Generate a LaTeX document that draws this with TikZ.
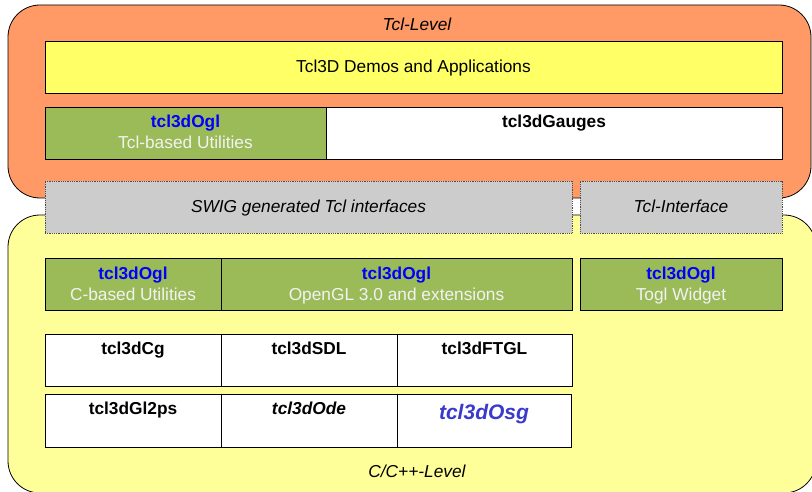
\documentclass[tikz,border=0pt]{standalone}
\usepackage{fontspec}
\setmainfont{Liberation Sans}
\definecolor{orangebg}{HTML}{FF9966}
\definecolor{yellowbg}{HTML}{FFFF99}
\definecolor{yellowbox}{HTML}{FFFF66}
\definecolor{greenbox}{HTML}{9BBB59}
\definecolor{graybox}{HTML}{CCCCCC}
\definecolor{ogl}{HTML}{0000FF}
\definecolor{osg}{HTML}{3A3ACC}
\definecolor{subtxt}{HTML}{F2F2F2}
\begin{document}
\begin{tikzpicture}[x=1pt,y=-1pt,
  level/.style={draw=black, line width=0.8pt, rounded corners=32pt},
  box/.style={draw=black, line width=0.8pt, anchor=north west, inner sep=0pt, outer sep=0pt, minimum height=52pt},
  graystyle/.style={box, fill=graybox, draw=black!70, densely dotted, line width=0.7pt},
  greenstyle/.style={box, fill=greenbox},
  whitestyle/.style={box, fill=white},
  txt/.style={font=\fontsize{17.3}{21}\selectfont, inner sep=0pt, anchor=base},
  bt/.style={txt, font=\fontsize{17.3}{21}\selectfont\bfseries},
  it/.style={txt, font=\fontsize{17.3}{21}\selectfont\itshape},
  ogltxt/.style={bt, text=ogl},
  subt/.style={txt, text=subtxt}
]
\useasboundingbox (0,0) rectangle (812,492);
% level backgrounds
\draw[level, fill=orangebg] (8,5) rectangle (811,198);
\draw[level, fill=yellowbg] (8,215) rectangle (816,493);
\node[it] (tcllevel) at (417,31) {Tcl-Level};
\node[it] (clevel) at (417,477) {C/C++-Level};
% Tcl level boxes
\node[box, fill=yellowbox, minimum width=737pt] (demos) at (45,41) {};
\node[txt] (demost) at (413.5,73) {Tcl3D Demos and Applications};
\node[greenstyle, minimum width=281pt] (tclutil) at (45,107) {};
\node[ogltxt] (tclutila) at (185.5,128) {tcl3dOgl};
\node[subt] (tclutilb) at (185.5,149) {Tcl-based Utilities};
\node[whitestyle, minimum width=456pt] (gauges) at (326,107) {};
\node[bt] (gaugest) at (554,128) {tcl3dGauges};
% interface boxes
\node[graystyle, minimum width=527pt] (swig) at (45,181) {};
\node[it] (swigt) at (308.5,213) {SWIG generated Tcl interfaces};
\node[graystyle, minimum width=202pt] (tclif) at (580,181) {};
\node[it] (tclift) at (681,213) {Tcl-Interface};
% C level green row
\node[greenstyle, minimum width=176pt] (cutil) at (45,258) {};
\node[ogltxt] (cutila) at (133,279) {tcl3dOgl};
\node[subt] (cutilb) at (133,300) {C-based Utilities};
\node[greenstyle, minimum width=351pt] (opengl) at (221,258) {};
\node[ogltxt] (opengla) at (396.5,279) {tcl3dOgl};
\node[subt] (openglb) at (396.5,300) {OpenGL 3.0 and extensions};
\node[greenstyle, minimum width=202pt] (togl) at (580,258) {};
\node[ogltxt] (togla) at (681,279) {tcl3dOgl};
\node[subt] (toglb) at (681,300) {Togl Widget};
% C level white rows
\node[whitestyle, minimum width=176pt] (cg) at (45,334) {};
\node[bt] (cgt) at (133,354) {tcl3dCg};
\node[whitestyle, minimum width=176pt] (sdl) at (221,334) {};
\node[bt] (sdlt) at (309,354) {tcl3dSDL};
\node[whitestyle, minimum width=175pt] (ftgl) at (397,334) {};
\node[bt] (ftglt) at (484.5,354) {tcl3dFTGL};
\node[whitestyle, minimum width=176pt, minimum height=53pt] (gl2ps) at (45,394) {};
\node[bt] (gl2pst) at (133,414) {tcl3dGl2ps};
\node[whitestyle, minimum width=176pt, minimum height=53pt] (ode) at (221,394) {};
\node[txt, font=\fontsize{17.3}{21}\selectfont\bfseries\itshape] (odet) at (309,414) {tcl3dOde};
\node[whitestyle, minimum width=174pt, minimum height=53pt] (osg) at (397,394) {};
\node[txt, font=\fontsize{21}{25}\selectfont\bfseries\itshape, text=osg] (osgt) at (484,419) {tcl3dOsg};
\end{tikzpicture}
\end{document}
